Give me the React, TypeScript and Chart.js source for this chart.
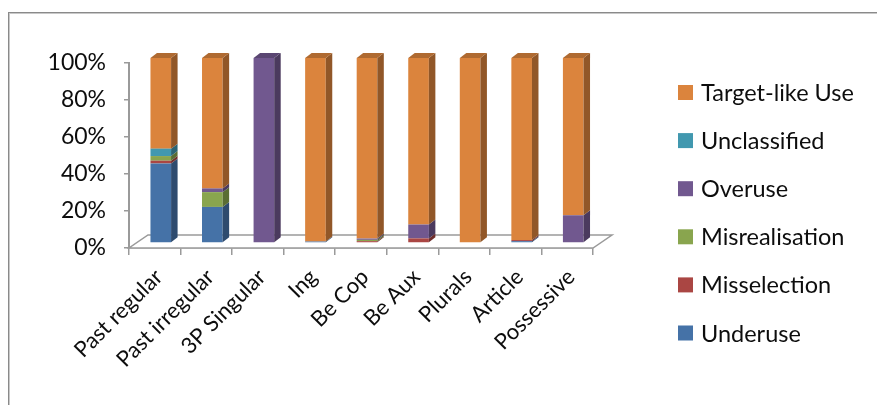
import React, { useEffect, useRef } from "react";
import { Chart, registerables } from "chart.js";

Chart.register(...registerables);

// ---- data ----
const categories = [
  "Past regular",
  "Past irregular",
  "3P Singular",
  "Ing",
  "Be Cop",
  "Be Aux",
  "Plurals",
  "Article",
  "Possessive",
];
const underuse = [43, 19.5, 0, 0.8, 0, 0, 0, 1, 0];
const misselection = [1.5, 0, 0, 0, 1, 2.5, 0, 0.6, 0];
const misrealisation = [2.5, 8, 0, 0, 0.7, 0, 0, 0, 0];
const overuse = [0, 2, 100, 0, 0.7, 7.5, 0, 0, 15];
const unclassified = [4, 0, 0, 0, 0, 0, 0, 0, 0];
const targetLike = [49, 70.5, 0, 99.2, 97.6, 90, 100, 98.4, 85];
const yTicks = [0, 20, 40, 60, 80, 100];

const seriesNames = [
  "Underuse",
  "Misselection",
  "Misrealisation",
  "Overuse",
  "Unclassified",
  "Target-like Use",
];
const seriesValues = [underuse, misselection, misrealisation, overuse, unclassified, targetLike];
const seriesColors = ["#4572A7", "#AA4643", "#89A54E", "#71588F", "#4198AF", "#DB843D"];

// ---- style ----
const FONT = "Lato, 'Open Sans', sans-serif";
const TEXT = "#0d0d0d";
const AXIS = "#9a9a9a";
const BAR_DX = 6;
const BAR_DY = -5;
const DEPTH_DX = 6.5;
const DEPTH_DY = -5;
const FLOOR_DX = 19;
const FLOOR_DY = -13;

function shade(hex: string, f: number) {
  const n = parseInt(hex.slice(1), 16);
  const r = Math.round(((n >> 16) & 255) * f);
  const g = Math.round(((n >> 8) & 255) * f);
  const b = Math.round((n & 255) * f);
  return `rgb(${r},${g},${b})`;
}

const threeD = {
  id: "threeD",
  beforeDraw(chart: any) {
    const ctx = chart.ctx;
    ctx.save();
    ctx.fillStyle = "#ffffff";
    ctx.fillRect(0, 0, chart.width, chart.height);
    ctx.strokeStyle = "#8a8a8a";
    ctx.lineWidth = 1;
    ctx.strokeRect(8.5, 12.5, chart.width + 20, chart.height + 20);
    ctx.strokeStyle = "#c8c8c8";
    ctx.strokeRect(9.5, 13.5, chart.width + 20, chart.height + 20);
    ctx.restore();
  },
  beforeDatasetsDraw(chart: any) {
    const ctx = chart.ctx;
    const a = chart.chartArea;
    ctx.save();
    ctx.beginPath();
    ctx.moveTo(a.left, a.bottom);
    ctx.lineTo(a.right, a.bottom);
    ctx.lineTo(a.right + FLOOR_DX, a.bottom + FLOOR_DY);
    ctx.lineTo(a.left + FLOOR_DX, a.bottom + FLOOR_DY);
    ctx.closePath();
    ctx.fillStyle = "#ffffff";
    ctx.fill();
    ctx.strokeStyle = AXIS;
    ctx.lineWidth = 1.5;
    ctx.stroke();
    ctx.restore();
    ctx.save();
    ctx.translate(BAR_DX, BAR_DY);
  },
  afterDatasetsDraw(chart: any) {
    const ctx = chart.ctx;
    const n = chart.data.labels.length;
    const topInfo: any[] = new Array(n).fill(null);
    chart.data.datasets.forEach((ds: any, di: number) => {
      const meta = chart.getDatasetMeta(di);
      if (meta.hidden) return;
      meta.data.forEach((el: any, i: number) => {
        const p = el.getProps(["x", "y", "base", "width"], true);
        const top = Math.min(p.y, p.base);
        const bottom = Math.max(p.y, p.base);
        if (bottom - top < 0.05) return;
        const right = p.x + p.width / 2;
        ctx.fillStyle = shade(ds.backgroundColor, 0.66);
        ctx.beginPath();
        ctx.moveTo(right, bottom);
        ctx.lineTo(right, top);
        ctx.lineTo(right + DEPTH_DX, top + DEPTH_DY);
        ctx.lineTo(right + DEPTH_DX, bottom + DEPTH_DY);
        ctx.closePath();
        ctx.fill();
        topInfo[i] = { color: ds.backgroundColor, top, left: p.x - p.width / 2, right };
      });
    });
    topInfo.forEach((t) => {
      if (!t) return;
      ctx.fillStyle = shade(t.color, 0.8);
      ctx.beginPath();
      ctx.moveTo(t.left, t.top);
      ctx.lineTo(t.left + DEPTH_DX, t.top + DEPTH_DY);
      ctx.lineTo(t.right + DEPTH_DX, t.top + DEPTH_DY);
      ctx.lineTo(t.right, t.top);
      ctx.closePath();
      ctx.fill();
    });
    ctx.restore();
  },
  afterDraw(chart: any) {
    const ctx = chart.ctx;
    const items = chart.data.datasets.map((d: any) => ({ label: d.label, color: d.backgroundColor })).reverse();
    ctx.save();
    ctx.font = `23.5px ${FONT}`;
    ctx.textBaseline = "middle";
    ctx.textAlign = "left";
    items.forEach((it: any, k: number) => {
      const cy = 92.5 + k * 48.1;
      ctx.fillStyle = it.color;
      ctx.fillRect(678, cy - 7.5, 15, 15);
      ctx.fillStyle = TEXT;
      ctx.fillText(it.label, 701, cy + 1);
    });
    ctx.restore();
  },
};

export default function App() {
  const ref = useRef<HTMLCanvasElement>(null);
  useEffect(() => {
    const canvas = ref.current;
    if (!canvas) return;
    const chart = new Chart(canvas, {
      type: "bar",
      data: {
        labels: categories,
        datasets: seriesNames.map((name, i) => ({
          label: name,
          data: seriesValues[i],
          backgroundColor: seriesColors[i],
          borderWidth: 0,
          clip: false as any,
          barPercentage: 0.8,
          categoryPercentage: 0.5,
        })),
      },
      options: {
        responsive: false,
        animation: false,
        layout: { padding: { top: 63, right: 284, left: 0, bottom: 0 } },
        plugins: { legend: { display: false }, tooltip: { enabled: false } },
        scales: {
          x: {
            stacked: true,
            offset: true,
            grid: {
              drawOnChartArea: false,
              drawTicks: true,
              tickLength: 7,
              color: AXIS,
              lineWidth: 1.5,
              offset: true,
            },
            border: { display: true, color: AXIS, width: 1.5 },
            ticks: {
              autoSkip: false,
              maxRotation: 45,
              minRotation: 45,
              padding: 9,
              labelOffset: 4,
              color: TEXT,
              font: { family: FONT, size: 22 },
            },
            afterFit: (s: any) => {
              s.height = 157;
            },
          },
          y: {
            stacked: true,
            min: 0,
            max: 100,
            grid: { drawOnChartArea: false, tickLength: 5, color: AXIS, lineWidth: 1.5 },
            border: { display: true, color: AXIS, width: 2 },
            ticks: {
              padding: 18,
              color: TEXT,
              font: { family: FONT, size: 23 },
              callback: (v: any) => v + "%",
            },
            afterBuildTicks: (s: any) => {
              s.ticks = yTicks.map((v) => ({ value: v }));
            },
            afterFit: (s: any) => {
              s.width = 129;
            },
          },
        },
      },
      plugins: [threeD],
    });
    return () => chart.destroy();
  }, []);
  return (
    <div style={{ position: "fixed", left: 0, top: 0, width: 877, height: 405, background: "#fff" }}>
      <canvas ref={ref} width={877} height={405} style={{ display: "block", width: 877, height: 405 }} />
    </div>
  );
}
